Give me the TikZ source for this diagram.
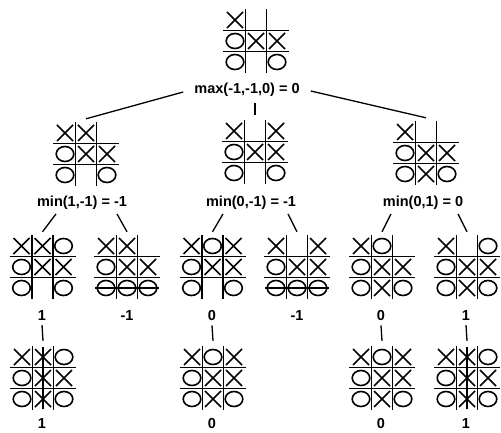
\documentclass[tikz,border=0pt]{standalone}
\usepackage{fontspec}
\setmainfont{Liberation Sans}
\usepackage{tikz}

\tikzset{
	boardbox/.style={minimum width=64pt,minimum height=64pt,inner sep=0pt},
	gridline/.style={line width=1.7pt},
	xomark/.style={line width=1.6pt},
	lbl/.style={font=\fontsize{14.5}{17}\selectfont\bfseries,inner sep=1pt},
	branch/.style={line width=1.3pt}
}

\newcommand{\tttboard}[4]{%
	\begin{scope}[shift={(#2)}]
		\node[boardbox] (#1) at (0,0) {};
		\draw[gridline] (-10.5,-32) -- (-10.5,32) (10.5,-32) -- (10.5,32)
			(-33,-10.5) -- (33,-10.5) (-33,10.5) -- (33,10.5);
		\foreach \m [count=\i from 0] in {#3} {
			\pgfmathsetmacro\cx{(mod(\i,3)-1)*21}
			\pgfmathsetmacro\cy{(int(\i/3)-1)*21}
			\if\m x\draw[xomark] (\cx-8,\cy-8) -- (\cx+8,\cy+8) (\cx-8,\cy+8) -- (\cx+8,\cy-8);\fi
			\if\m o\draw[xomark] (\cx,\cy) ellipse [x radius=8.8,y radius=7.5];\fi
		}
		#4
	\end{scope}
}

\begin{document}
\begin{tikzpicture}[x=1pt,y=-1pt]
					\useasboundingbox[fill=white] (0,0) rectangle (501,433);
					\coordinate (p0) at (256,41);
					\coordinate (p1) at (86,154);
					\coordinate (p2) at (255,152);
					\coordinate (p3) at (426,153);
					\coordinate (q1) at (42.5,267);
					\coordinate (q2) at (127,267);
					\coordinate (q3) at (212.5,267);
					\coordinate (q4) at (297,267);
					\coordinate (q5) at (382,267);
					\coordinate (q6) at (467,267);
					\coordinate (s1) at (43,378);
					\coordinate (s3) at (213,378);
					\coordinate (s5) at (382,378);
					\coordinate (s6) at (467,378);
					
					\tttboard{root}{p0}{x,n,n,o,x,x,o,n,o}{}
					\tttboard{b1}{p1}{x,x,n,o,x,x,o,n,o}{}
					\tttboard{b2}{p2}{x,n,x,o,x,x,o,n,o}{}
					\tttboard{b3}{p3}{x,n,n,o,x,x,o,x,o}{}
					\tttboard{c1}{q1}{x,x,o,o,x,x,o,n,o}{}
					\tttboard{c2}{q2}{x,x,n,o,x,x,o,o,o}{\draw[gridline] (-32,21) -- (32,21);}
					\tttboard{c3}{q3}{x,o,x,o,x,x,o,n,o}{}
					\tttboard{c4}{q4}{x,n,x,o,x,x,o,o,o}{\draw[gridline] (-32,21) -- (32,21);}
					\tttboard{c5}{q5}{x,o,n,o,x,x,o,x,o}{}
					\tttboard{c6}{q6}{x,n,o,o,x,x,o,x,o}{}
					\tttboard{d1}{s1}{x,x,o,o,x,x,o,x,o}{\draw[gridline] (0,-31) -- (0,31);}
					\tttboard{d3}{s3}{x,o,x,o,x,x,o,x,o}{}
					\tttboard{d5}{s5}{x,o,x,o,x,x,o,x,o}{}
					\tttboard{d6}{s6}{x,x,o,o,x,x,o,x,o}{\draw[gridline] (0,-31) -- (0,31);}
					
					\node[lbl] (mx) at (247,90) {max(-1,-1,0) = 0};
					\node[lbl] (m1) at (82,203) {min(1,-1) = -1};
					\node[lbl] (m2) at (251,203) {min(0,-1) = -1};
					\node[lbl] (m3) at (423,203) {min(0,1) = 0};
					\node[lbl] (v1) at (42,316) {1};
					\node[lbl] (v2) at (127,316) {-1};
					\node[lbl] (v3) at (212,316) {0};
					\node[lbl] (v4) at (297,316) {-1};
					\node[lbl] (v5) at (381,316) {0};
					\node[lbl] (v6) at (466,316) {1};
					\node[lbl] (w1) at (42,424) {1};
					\node[lbl] (w3) at (212,424) {0};
					\node[lbl] (w5) at (381,424) {0};
					\node[lbl] (w6) at (466,424) {1};
					
					\draw[branch] ([xshift=-10pt,yshift=-2pt]mx.west) -- ([yshift=3pt]b1.north);
					\draw[branch] ([yshift=5pt]b2.north) -- ([yshift=17pt]b2.north);
					\draw[branch] ([xshift=10pt,yshift=-1pt]mx.east) -- ([yshift=3pt]b3.north);
					\draw[branch] ([xshift=-26pt,yshift=-3pt]m1.south) -- ([yshift=3pt]c1.north);
					\draw[branch] ([xshift=35pt,yshift=-3pt]m1.south) -- ([yshift=3pt]c2.north);
					\draw[branch] ([xshift=-28pt,yshift=-3pt]m2.south) -- ([yshift=3pt]c3.north);
					\draw[branch] ([xshift=37pt,yshift=-3pt]m2.south) -- ([yshift=3pt]c4.north);
					\draw[branch] ([xshift=-32pt,yshift=-3pt]m3.south) -- ([yshift=3pt]c5.north);
					\draw[branch] ([xshift=35pt,yshift=-3pt]m3.south) -- ([yshift=3pt]c6.north);
					\draw[branch] ([yshift=-3pt]v1.south) -- ([yshift=5pt]d1.north);
					\draw[branch] ([yshift=-3pt]v3.south) -- ([yshift=5pt]d3.north);
					\draw[branch] ([yshift=-3pt]v5.south) -- ([yshift=5pt]d5.north);
					\draw[branch] ([yshift=-3pt]v6.south) -- ([yshift=5pt]d6.north);
				\end{tikzpicture}
\end{document}
